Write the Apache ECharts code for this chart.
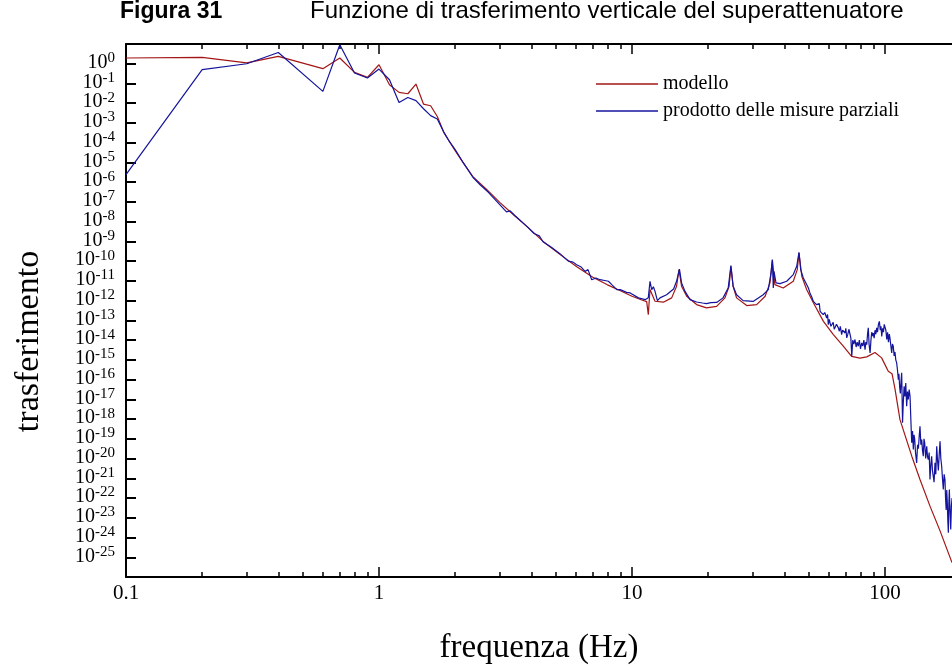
<!DOCTYPE html>
<html>
<head>
<meta charset="utf-8">
<script src="https://cdn.jsdelivr.net/npm/echarts@6/dist/echarts.min.js"></script>
<style>
  html, body { margin: 0; padding: 0; background: #fff; }
  #chart { width: 952px; height: 667px; }
</style>
</head>
<body>
<div id="chart"></div>
<script>
// modello: frequenza (Hz) e log10 del trasferimento
const modelFreq = [0.1, 0.2, 0.3, 0.4, 0.6, 0.7, 0.8, 0.9, 1.0, 1.1, 1.2, 1.3, 1.4, 1.5, 1.6, 1.7, 1.8, 1.9, 2.0,
  2.15, 2.35, 2.67, 3.0, 3.4, 3.85, 4.45, 5.2, 6.05, 7.0, 8.0, 9.0, 10.0, 11.0, 11.43, 11.6, 11.78, 12.33,
  13.3, 14.35, 15.0, 15.34, 15.7, 16.45, 18.0, 19.7, 21.6, 23.3, 24.2, 24.6, 25.1, 25.9, 28.4, 31.1, 33.6,
  35.1, 35.9, 36.7, 39.6, 43.4, 45.0, 45.7, 46.9, 49.0, 52.1, 57.1, 62.5, 68.4, 73.8, 79.6, 84.7, 91.3,
  97.0, 103.0, 106.6, 109.6, 114.6, 127.6, 137.5, 150.6, 164.9, 184]
const modelExp = [0.29, 0.32, 0.04, 0.37, -0.25, 0.29, -0.44, -0.69, -0.05, -1.06, -1.45, -1.52, -1.03, -2.05, -2.13, -2.67, -3.45, -3.95, -4.4,
  -5.01, -5.72, -6.38, -7.02, -7.65, -8.25, -9.0, -9.67, -10.28, -10.82, -11.2, -11.5, -11.78, -11.98, -12.05, -12.71, -11.44, -12.03,
  -12.08, -11.86, -11.27, -10.43, -11.27, -11.78, -12.2, -12.37, -12.29, -11.86, -11.27, -10.26, -11.27, -11.86, -12.25, -12.2, -11.78,
  -11.1, -9.96, -11.19, -11.36, -11.02, -10.43, -9.58, -10.77, -11.44, -12.11, -13.05, -13.72, -14.31, -14.82, -14.91, -14.85, -14.63,
  -14.9, -15.58, -15.7, -16.5, -18.03, -19.88, -21.06, -22.41, -23.65, -25.27]

// prodotto delle misure parziali
const measFreq = [0.1, 0.2, 0.3, 0.4, 0.6, 0.7, 0.8, 0.9, 1.0, 1.1, 1.2, 1.3, 1.4, 1.5, 1.6, 1.7, 1.8, 1.9, 2.0,
  2.15, 2.35, 2.51, 2.7, 2.92, 3.19, 3.3, 3.45, 3.85, 4.1, 4.3, 4.45, 4.8, 5.19, 5.6, 5.85, 6.04, 6.3, 6.52, 6.7,
  6.93, 7.2, 7.47, 7.8, 8.07, 8.32, 8.71, 8.98, 9.52, 9.84, 10.6, 11.27, 11.6, 11.78, 11.96, 12.15, 12.33, 12.6,
  12.9, 13.7, 14.6, 15.0, 15.4, 15.7, 16.2, 16.96, 18.0, 19.0, 19.7, 20.5, 21.6, 22.9, 24.0, 24.6, 25.1, 25.9,
  27.5, 30.1, 33.0, 34.57, 35.43, 35.85, 36.18, 36.41, 37.08, 38.46, 40.88, 43.4, 44.77, 45.72, 46.43, 47.55,
  49.8, 50.5, 51.3, 52.1, 52.9, 53.6, 54.5, 55.0, 55.4, 56.2, 57.0, 57.8, 58.8, 59.3, 59.7, 60.2, 60.6, 61.1,
  61.6, 62.4, 63.0, 63.5, 64.3, 65.4, 66.0, 66.6, 67.4, 68.0, 68.7, 69.5, 70.0, 70.6, 71.3, 72.0, 72.7, 73.3,
  73.9, 74.6, 75.3, 76.1, 76.9, 77.6, 78.4, 79.2, 80.0, 80.9, 81.7, 82.5, 83.4, 84.0, 84.7, 85.3, 85.9, 86.5,
  87.3, 88.0, 88.6, 89.3, 89.9, 90.6, 91.3, 92.0, 92.7, 93.4, 94.2, 95.0, 95.8, 96.4, 97.1, 97.8, 98.6, 99.3,
  100.0, 100.8, 101.6, 102.4, 103.2, 104.0, 104.6, 105.5, 106.3, 107.0, 107.8, 108.7, 109.5, 110.3, 111.2,
  112.0, 112.9, 113.5, 114.3, 115.0, 115.7, 116.4, 117.3, 118.1, 119.0, 119.9, 120.8, 121.8, 122.7, 123.6,
  124.6, 125.6, 126.5, 127.5, 128.5, 129.4, 130.2, 131.0, 132.0, 133.4, 134.5, 135.5, 136.5, 137.5, 138.6,
  139.7, 140.7, 141.7, 142.6, 143.5, 144.8, 146.2, 147.2, 148.3, 149.5, 150.6, 151.8, 152.9, 154.0, 155.0,
  156.3, 157.6, 158.8, 160.1, 161.3, 162.5, 163.8, 165.0, 166.2, 167.5, 168.7, 170.0, 171.3, 172.6, 173.5,
  174.5, 175.4, 176.3, 177.2, 178.0, 178.8, 179.6, 180.8, 181.9, 183.0, 184.1]
const measExp = [-5.62, -0.3, 0.0, 0.57, -1.4, 0.96, -0.47, -0.72, -0.27, -0.81, -1.96, -1.71, -1.87, -2.28, -2.63, -2.8, -3.45, -3.95, -4.35,
  -5.0, -5.75, -6.13, -6.5, -6.97, -7.5, -7.45, -7.7, -8.25, -8.6, -8.72, -9.02, -9.3, -9.62, -10.0, -10.05, -10.18, -10.3, -10.52, -10.43,
  -10.94, -10.85, -10.94, -10.98, -11.02, -11.19, -11.44, -11.44, -11.58, -11.61, -11.86, -11.95, -11.85, -11.02, -11.44, -11.3, -11.53, -12.0,
  -11.86, -11.7, -11.41, -11.02, -10.4, -11.1, -11.53, -11.95, -12.07, -12.12, -12.15, -12.1, -12.09, -11.86, -11.36, -10.23, -11.27, -11.7,
  -12.0, -12.04, -11.7, -11.44, -10.6, -9.92, -11.36, -10.52, -11.1, -11.14, -11.02, -10.68, -10.26, -9.56, -10.43, -10.85,
  -11.36, -11.61, -11.8, -12.04, -11.95, -12.2, -12.29, -12.15, -12.54, -12.45, -12.71, -12.6, -12.88, -12.7, -13.22, -12.95, -12.88, -13.3,
  -13.38, -13.1, -13.45, -13.47, -13.2, -13.38, -13.55, -13.3, -13.72, -13.5, -13.6, -13.64, -13.4, -13.89, -13.7, -13.45, -13.38, -13.9,
  -14.82, -14.0, -14.2, -13.97, -14.35, -14.1, -14.31, -14.0, -14.45, -14.14, -14.3, -14.0, -14.48, -14.1, -14.23, -13.7, -13.38, -14.2,
  -14.65, -14.0, -13.6, -13.8, -13.64, -13.9, -13.5, -13.7, -13.38, -13.6, -13.2, -13.05, -13.5, -13.3, -13.81, -13.4, -13.6, -13.2,
  -13.13, -13.5, -13.97, -13.6, -14.1, -13.7, -13.89, -14.3, -14.65, -14.2, -14.31, -14.8, -14.6, -15.0, -15.15,
  -15.5, -16.0, -15.7, -16.4, -16.7, -16.1, -15.66, -18.19, -17.18, -16.34, -16.85, -16.17, -17.35, -16.6, -17.01,
  -16.51, -16.85, -18.0, -19.2, -18.6, -19.54, -18.8, -19.0, -19.7, -20.22, -19.3, -19.5, -18.9, -18.36, -19.3,
  -19.04, -19.6, -19.88, -19.0, -19.2, -20.0, -19.38, -19.9, -20.05, -19.7, -21.06, -20.3, -19.88, -20.6, -20.5,
  -21.2, -20.22, -20.8, -19.38, -20.1, -20.6, -19.8, -19.12, -20.0, -20.39, -21.0, -21.57, -20.8, -21.06, -22.0,
  -22.6, -21.6, -22.24, -23.2, -23.76, -22.3, -21.57, -22.7, -23.59, -22.41, -22.0]

// tacche degli assi
const xMajorTicks = [0.1, 1, 10, 100]
const xMinorTicks = [0.2, 0.3, 0.4, 0.5, 0.6, 0.7, 0.8, 0.9, 2, 3, 4, 5, 6, 7, 8, 9, 20, 30, 40, 50, 60, 70, 80, 90]
const yTickExps = [0, -1, -2, -3, -4, -5, -6, -7, -8, -9, -10, -11, -12, -13, -14, -15, -16, -17, -18, -19, -20, -21, -22, -23, -24, -25]

const toPoints = (freq, exps) => freq.map((f, i) => [f, Math.pow(10, exps[i])])
const yTicks = yTickExps.map((e) => Math.pow(10, e))
// etichette vuote agli estremi: ECharts nasconde solo quelle
const yLabelValues = [9.9, ...yTicks, 1.01e-26]

const serif = 'Liberation Serif'
const chartDom = document.getElementById('chart')
const myChart = echarts.init(chartDom)

const xBase = {
  type: 'log',
  min: 0.1,
  max: 184,
  splitLine: { show: false },
  axisLine: { show: false },
  axisLabel: { show: false }
}

const option = {
  animation: false,
  backgroundColor: '#fff',
  title: [
    {
      text: 'Figura 31',
      left: 120,
      top: 0,
      padding: 0,
      textStyle: { fontFamily: 'Liberation Sans', fontWeight: 'bold', fontSize: 23, color: '#000' }
    },
    {
      text: 'Funzione di trasferimento verticale del superattenuatore',
      left: 310,
      top: -1,
      padding: 0,
      textStyle: { fontFamily: 'Liberation Sans', fontWeight: 'normal', fontSize: 24, color: '#000' }
    }
  ],
  legend: {
    orient: 'vertical',
    left: 596,
    top: 74,
    padding: 0,
    icon: 'rect',
    itemWidth: 62,
    itemHeight: 1.5,
    itemGap: 7,
    textStyle: { fontFamily: serif, fontSize: 20, color: '#000', lineHeight: 20 },
    data: ['modello', 'prodotto delle misure parziali']
  },
  grid: {
    left: 126,
    right: 0,
    top: 44,
    bottom: 90,
    containLabel: false,
    outerBoundsMode: 'none'
  },
  xAxis: [
    {
      ...xBase,
      position: 'bottom',
      axisLine: { show: true, lineStyle: { color: '#000', width: 2 } },
      axisTick: { inside: true, length: 10, lineStyle: { color: '#000', width: 1.5 }, customValues: xMajorTicks },
      axisLabel: {
        show: true,
        customValues: xMajorTicks,
        showMinLabel: true,
        showMaxLabel: true,
        margin: 6,
        fontFamily: serif,
        fontSize: 21,
        color: '#000',
        formatter: (v) => (v < 1 ? v.toFixed(1) : String(Math.round(v)))
      },
      name: 'frequenza (Hz)',
      nameLocation: 'middle',
      nameGap: 55,
      nameTextStyle: { fontFamily: serif, fontSize: 33, color: '#000' }
    },
    {
      ...xBase,
      position: 'bottom',
      axisTick: { inside: true, length: 5, lineStyle: { color: '#000', width: 1.5 }, customValues: xMinorTicks }
    },
    {
      ...xBase,
      position: 'top',
      axisLine: { show: true, lineStyle: { color: '#000', width: 2 } },
      axisTick: { inside: true, length: 10, lineStyle: { color: '#000', width: 1.5 }, customValues: xMajorTicks }
    },
    {
      ...xBase,
      position: 'top',
      axisTick: { inside: true, length: 5, lineStyle: { color: '#000', width: 1.5 }, customValues: xMinorTicks }
    }
  ],
  yAxis: {
    type: 'log',
    min: 1e-26,
    max: 10,
    position: 'left',
    splitLine: { show: false },
    axisLine: { show: true, lineStyle: { color: '#000', width: 2 } },
    axisTick: { inside: true, length: 10, lineStyle: { color: '#000', width: 2 }, customValues: yTicks },
    axisLabel: {
      customValues: yLabelValues,
      showMinLabel: false,
      showMaxLabel: false,
      margin: 11,
      padding: [0, 0, 2, 0],
      formatter: (v) => {
        const e = Math.round(Math.log10(v))
        return e > 0 || e < -25 ? '' : '{b|10}{s|' + e + '}'
      },
      rich: {
        b: { fontFamily: serif, fontSize: 20, lineHeight: 16, color: '#000' },
        s: { fontFamily: serif, fontSize: 15, lineHeight: 16, verticalAlign: 'bottom', padding: [0, 0, 5, 0], color: '#000' }
      }
    },
    name: 'trasferimento',
    nameLocation: 'middle',
    nameGap: 80,
    nameTextStyle: { fontFamily: serif, fontSize: 34, color: '#000', padding: [0, 62, 0, 0] }
  },
  series: [
    {
      name: 'modello',
      type: 'line',
      color: '#a31616',
      showSymbol: false,
      symbol: 'none',
      lineStyle: { width: 1.2, color: '#a31616' },
      data: toPoints(modelFreq, modelExp)
    },
    {
      name: 'prodotto delle misure parziali',
      type: 'line',
      color: '#14149c',
      showSymbol: false,
      symbol: 'none',
      lineStyle: { width: 1.2, color: '#14149c' },
      data: toPoints(measFreq, measExp)
    }
  ]
}

option && myChart.setOption(option)
</script>
</body>
</html>
